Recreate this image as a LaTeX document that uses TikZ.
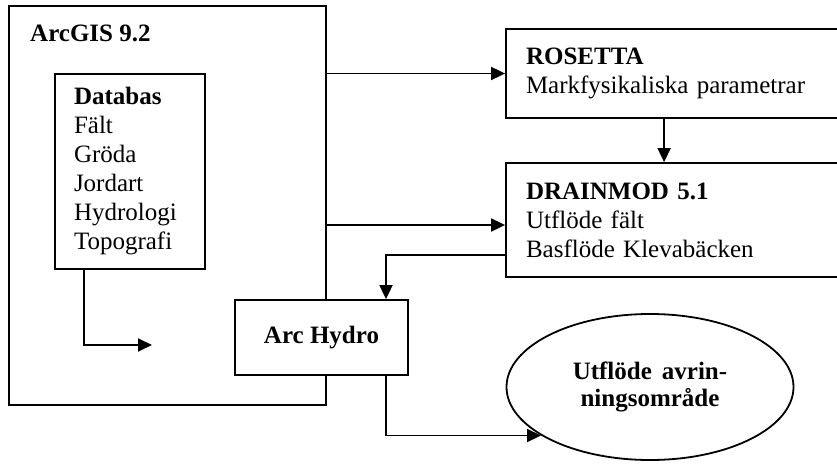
\documentclass[tikz,border=0pt]{standalone}
\usepackage{fontspec}
\setmainfont{Liberation Serif}
\usetikzlibrary{arrows.meta,shapes.geometric,calc}
\begin{document}
\begin{tikzpicture}[x=1pt,y=-1pt,
  every node/.style={font=\fontsize{25}{29}\selectfont},
  box/.style={draw,line width=1.8pt,rectangle,inner sep=0pt,fill=white},
  txtbox/.style={draw,line width=1.8pt,rectangle,fill=white,inner xsep=20pt,inner ysep=0pt,align=left},
  arr/.style={line width=1.8pt,-{Triangle[length=14pt,width=13pt]}}]
\useasboundingbox (0,0) rectangle (837,463);
\clip (0,0) rectangle (837,463);
% ArcGIS outer box
\node[box,minimum width=317pt,minimum height=399pt] (arcgis) at (167.5,205.5) {};
\node[anchor=west,inner sep=0pt,font=\fontsize{25}{29}\selectfont\bfseries] (arcgistitle) at (30,33) {ArcGIS 9.2};
% Databas
\node[txtbox,inner xsep=19pt,text width=112pt,minimum height=195pt] (databas) at (130,171.5)
  {\textbf{Databas}\\Fält\\Gröda\\Jordart\\Hydrologi\\Topografi};
% ROSETTA
\node[txtbox,text width=299pt,minimum height=89pt] (rosetta) at (675.5,73.5)
  {\textbf{ROSETTA}\\Markfysikaliska parametrar};
% DRAINMOD
\node[txtbox,text width=299pt,minimum height=114pt] (drainmod) at (675.5,220)
  {\textbf{DRAINMOD 5.1}\\Utflöde fält\\Basflöde Klevabäcken};
% Arc Hydro
\node[box,minimum width=173pt,minimum height=75pt,font=\fontsize{25}{29}\selectfont\bfseries] (archydro) at (321.5,337.5) {Arc Hydro};
% Ellipse
\node[draw,ellipse,line width=1.8pt,minimum width=287pt,minimum height=146pt,inner sep=0pt,align=center,font=\fontsize{25}{27}\selectfont\bfseries] (utfl) at (650,387)
  {Utflöde\hspace{0.4em}avrin-\\ningsområde};
% connectors
\coordinate (dbend) at (152,345);
\draw[arr] ($(databas.south west)+(30,0)$) |- (dbend);
\draw[arr] (arcgis.east |- rosetta.west) -- (rosetta.west);
\draw[arr] (arcgis.east |- 0,225) -- (drainmod.west |- 0,225);
\draw[arr] ($(rosetta.south west)+(159,0)$) -- ($(drainmod.north west)+(159,0)$);
\draw[arr] ($(drainmod.west)+(0,35)$) -| ($(archydro.north)+(64.5,0)$);
\draw[arr] ($(archydro.south)+(64.5,0)$) |- (utfl.204);
\end{tikzpicture}
\end{document}
